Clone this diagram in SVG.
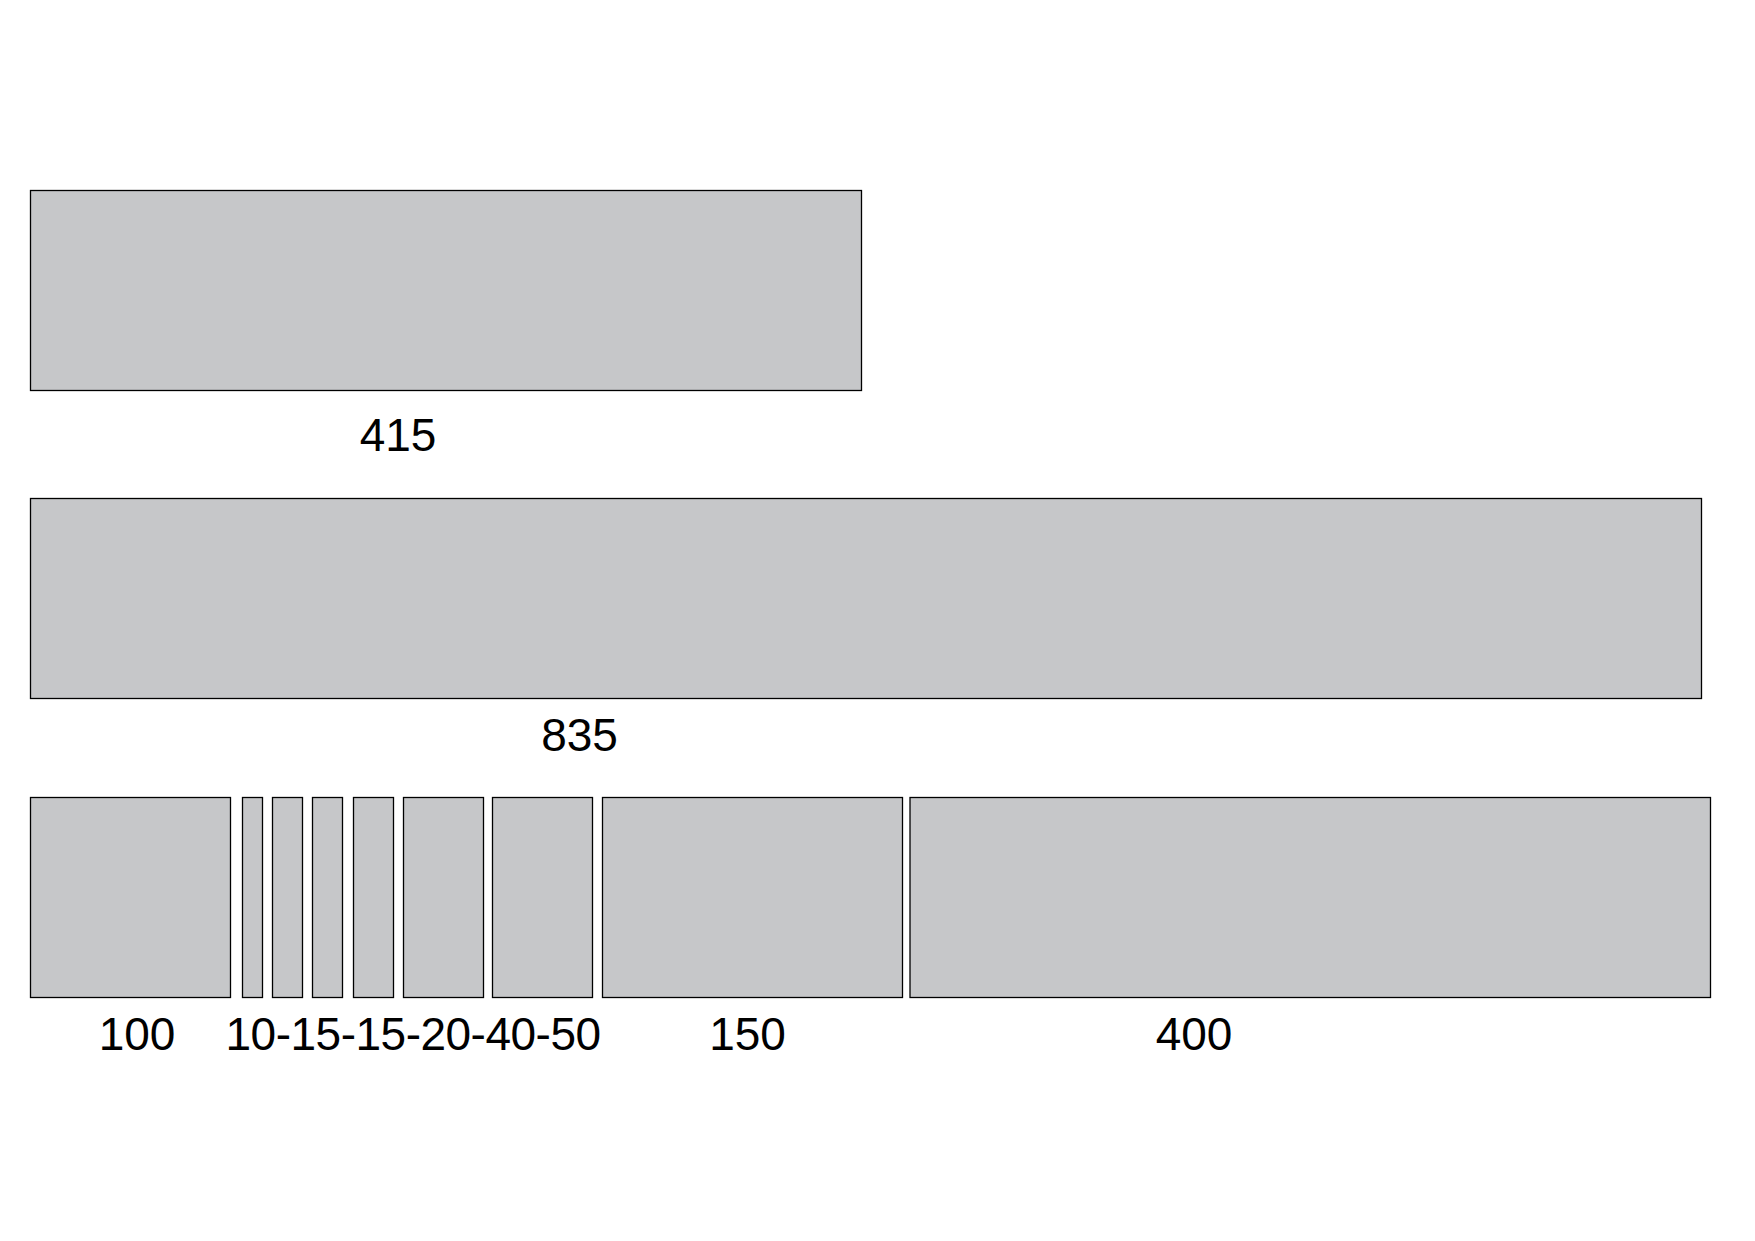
<svg xmlns="http://www.w3.org/2000/svg" width="1755" height="1241" viewBox="0 0 1755 1241">
<style>
.bar{fill:#c6c7c9;stroke:#000;stroke-width:1.3}
.lbl{font-family:"Liberation Sans",Arial,sans-serif;font-size:46px;fill:#000;text-anchor:middle}
</style>
<rect width="1755" height="1241" fill="#fff"/>
<g id="bar415"><rect class="bar" x="30.5" y="190.5" width="831" height="200"/><text class="lbl" x="398" y="451">415</text></g>
<g id="bar835"><rect class="bar" x="30.5" y="498.5" width="1671" height="200"/><text class="lbl" x="579.5" y="751">835</text></g>
<g id="row3">
<rect class="bar" x="30.5" y="797.5" width="200" height="200"/>
<rect class="bar" x="242.5" y="797.5" width="20" height="200"/>
<rect class="bar" x="272.5" y="797.5" width="30" height="200"/>
<rect class="bar" x="312.5" y="797.5" width="30" height="200"/>
<rect class="bar" x="353.5" y="797.5" width="40" height="200"/>
<rect class="bar" x="403.5" y="797.5" width="80" height="200"/>
<rect class="bar" x="492.5" y="797.5" width="100" height="200"/>
<rect class="bar" x="602.5" y="797.5" width="300" height="200"/>
<rect class="bar" x="910" y="797.5" width="800.5" height="200"/>
<text class="lbl" x="137" y="1050">100</text>
<text class="lbl" x="225.5" y="1050" style="text-anchor:start;letter-spacing:-0.5px">10-15-15-20-40-50</text>
<text class="lbl" x="747.5" y="1050">150</text>
<text class="lbl" x="1194" y="1050">400</text>
</g>
<g id="connectors"/>
</svg>
